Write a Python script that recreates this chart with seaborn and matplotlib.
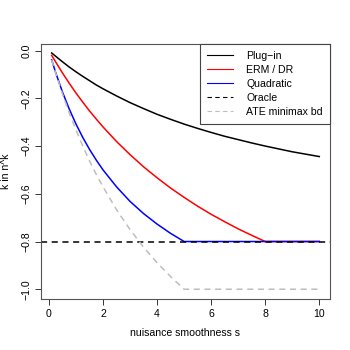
import numpy as np
import pandas as pd
import matplotlib
matplotlib.use("Agg")
import matplotlib.pyplot as plt
import seaborn as sns
from matplotlib.lines import Line2D

# values
s = [0.1, 0.25, 0.5, 0.75, 1.0, 1.25, 1.5, 1.75, 2.0, 2.5, 3.0, 3.5, 4.0, 4.5,
     5.0, 5.5, 6.0, 6.5, 7.0, 7.5, 8.0, 8.5, 9.0, 9.5, 10.0]
plug_in = [-0.010, -0.024, -0.047, -0.069, -0.089, -0.108, -0.126, -0.144, -0.160,
           -0.190, -0.218, -0.243, -0.267, -0.288, -0.308, -0.326, -0.343, -0.359,
           -0.373, -0.387, -0.400, -0.412, -0.424, -0.434, -0.444]
erm_dr = [-0.020, -0.048, -0.094, -0.137, -0.178, -0.216, -0.253, -0.287, -0.320,
          -0.381, -0.436, -0.487, -0.533, -0.576, -0.615, -0.652, -0.686, -0.717,
          -0.747, -0.774, -0.800, -0.800, -0.800, -0.800, -0.800]
quadratic = [-0.039, -0.093, -0.174, -0.245, -0.308, -0.364, -0.414, -0.459, -0.500,
             -0.571, -0.632, -0.683, -0.727, -0.766, -0.800, -0.800, -0.800, -0.800,
             -0.800, -0.800, -0.800, -0.800, -0.800, -0.800, -0.800]
ate_bound = [-0.039, -0.095, -0.182, -0.261, -0.333, -0.400, -0.462, -0.519, -0.571,
             -0.667, -0.750, -0.824, -0.889, -0.947, -1.000, -1.000, -1.000, -1.000,
             -1.000, -1.000, -1.000, -1.000, -1.000, -1.000, -1.000]
oracle = -0.8

labels = ["Plug\u2212in", "ERM / DR", "Quadratic", "Oracle", "ATE minimax bd"]
xticks = [0, 2, 4, 6, 8, 10]
yticks = [0.0, -0.2, -0.4, -0.6, -0.8, -1.0]

plt.rcParams['font.family'] = ['Liberation Sans', 'DejaVu Sans']
plt.rcParams['font.size'] = 7.6
plt.rcParams['axes.unicode_minus'] = True

df = pd.DataFrame({"s": s, "plug": plug_in, "erm": erm_dr,
                   "quad": quadratic, "ate": ate_bound})

fig = plt.figure(figsize=(3.5, 3.5), dpi=100)
ax = fig.add_axes([0.1171, 0.1466, 0.8257, 0.729])

lw = 1.1
sns.lineplot(data=df, x="s", y="plug", ax=ax, color="black", lw=lw)
sns.lineplot(data=df, x="s", y="erm", ax=ax, color="red", lw=lw)
sns.lineplot(data=df, x="s", y="quad", ax=ax, color="blue", lw=lw)
ax.axhline(oracle, color="black", lw=lw, dashes=(4, 3))
sns.lineplot(data=df, x="s", y="ate", ax=ax, color="#bebebe", lw=lw,
             dashes=(4, 3))

ax.set_xlim(-0.296, 10.396)
ax.set_ylim(-1.0396, 0.0296)
ax.set_xticks(xticks)
ax.set_xticklabels([str(t) for t in xticks])
ax.set_yticks(yticks)
ax.set_yticklabels(["0.0", "\u22120.2", "\u22120.4", "\u22120.6", "\u22120.8", "\u22121.0"],
                   rotation=90, va="center")
ax.tick_params(direction="out", length=4, width=0.7, pad=3.5, colors="#333333",
               labelcolor="black")
ax.tick_params(axis="y", pad=2.5)
for sp in ax.spines.values():
    sp.set_color("#555555")
    sp.set_linewidth(0.8)

ax.set_xlabel("nuisance smoothness s")
ax.set_ylabel("k in n^k")
ax.xaxis.set_label_coords(0.5, -0.113)
ax.yaxis.set_label_coords(-0.104, 0.5)

handles = [
    Line2D([], [], color="black", lw=0.8),
    Line2D([], [], color="red", lw=0.8),
    Line2D([], [], color="blue", lw=0.8),
    Line2D([], [], color="black", lw=0.8, dashes=(4, 3)),
    Line2D([], [], color="#bebebe", lw=0.8, dashes=(4, 3)),
]
leg = ax.legend(handles, labels, loc="upper right", borderaxespad=0,
                fancybox=False, framealpha=1, edgecolor="#444444",
                handlelength=2.5, handletextpad=1.2, labelspacing=0.38,
                borderpad=0.7, fontsize=7.6)
leg.get_frame().set_linewidth(0.8)

fig.savefig("out.png", dpi=100)
